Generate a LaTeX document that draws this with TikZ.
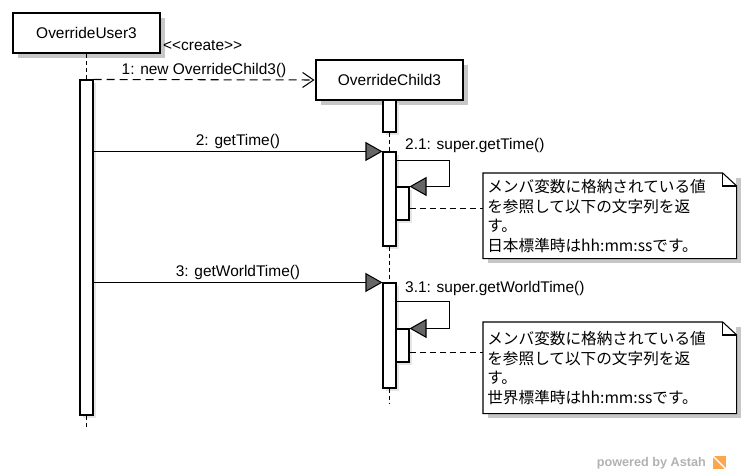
\documentclass[tikz,border=0pt]{standalone}
\usepackage{fontspec}
\setmainfont{Liberation Sans}
\newfontfamily\jpfont{Noto Sans CJK JP}
\usetikzlibrary{positioning, fit, shadows, arrows.meta}

\def\px{0.02cm}

\tikzset{
  headbox/.style={draw, line width=1.7pt, fill=white, inner sep=0,
    minimum width=147*\px, minimum height=40*\px,
    drop shadow={shadow xshift=5*\px, shadow yshift=-5*\px, fill=black!22, opacity=1}},
  actbox/.style={draw, line width=0.6pt, fill=white, inner sep=0,
    drop shadow={shadow xshift=3*\px, shadow yshift=-3*\px, fill=black!10, opacity=1}},
  lifeline/.style={line width=0.6pt, dash pattern=on 4*\px off 3*\px},
  syncmsg/.style={line width=0.6pt, -{Triangle[length=17*\px, width=19*\px, fill=black!60]}},
  createmsg/.style={line width=0.6pt, dash pattern=on 8*\px off 5*\px,
    -{Straight Barb[length=11*\px, width=15*\px]}},
  notelink/.style={line width=0.6pt, dash pattern=on 6*\px off 4*\px},
  notebox/.style={fill=white, inner sep=3*\px, anchor=north west, align=left,
    text width=245*\px, minimum width=253*\px, font=\jpfont\fontsize{8.9}{11.1}\selectfont,
    drop shadow={shadow xshift=5*\px, shadow yshift=-5*\px, fill=black!22, opacity=1}},
  msglabel/.style={inner sep=1pt}
}

\begin{document}
\begin{tikzpicture}[x=\px, y=-\px, font=\fontsize{8.8}{10.6}\selectfont]
\useasboundingbox (0,0) rectangle (748,476);

\node[headbox] (u3) at (86.5,33) {OverrideUser3};
\node[headbox] (c3) at (389.5,80) {OverrideChild3};

\node[actbox, fit={(80,80) (93,415)}] (a1) {};
\node[actbox, fit={(383,100) (396,132)}] (c0) {};
\node[actbox, fit={(383,152) (396,246)}] (c1) {};
\node[actbox, fit={(396,187) (409,220)}] (n1) {};
\node[actbox, fit={(383,283) (396,388)}] (c2) {};
\node[actbox, fit={(396,329) (409,362)}] (n2) {};

\coordinate (u3end) at (86.5,428);
\coordinate (c3end) at (389.5,403);

\draw[lifeline] (u3.south) -- (a1.north);
\draw[lifeline] (a1.south) -- (u3end);
\draw[lifeline] (c0.south) -- (c1.north);
\draw[lifeline] (c1.south) -- (c2.north);
\draw[lifeline] (c2.south) -- (c3end);

\draw[createmsg] (a1.north east) -- node[above, msglabel] (m1) {1: new OverrideChild3()} (c3.west);
\node[anchor=west, inner sep=1pt] (st) at (161,46) {\textless\kern0pt\textless create\textgreater\kern0pt\textgreater};

\draw[syncmsg] (a1.east |- c1.north) -- node[above, msglabel] (m2) {2: getTime()} (c1.north west);
\draw[syncmsg] (a1.east |- c2.north) -- node[above, msglabel] (m3) {3: getWorldTime()} (c2.north west);

\node[anchor=west] (s1) at (399,146) {2.1: super.getTime()};
\node[anchor=west] (s2) at (399,289) {3.1: super.getWorldTime()};

\draw[syncmsg] ([yshift=-9*\px]c1.north east) -- ++(53,0) |- (n1.north east);
\draw[syncmsg] ([yshift=-19*\px]c2.north east) -- ++(53,0) |- (n2.north east);

\node[notebox, minimum height=85*\px] (note1) at (483,173)
  {メンバ変数に格納されている値\\を参照して以下の文字列を返\\す。\\日本標準時はhh:mm:ssです。};
\node[notebox, minimum height=91*\px] (note2) at (483,322)
  {メンバ変数に格納されている値\\を参照して以下の文字列を返\\す。\\世界標準時はhh:mm:ssです。};

\foreach \n in {note1, note2} {
  \draw[line width=0.6pt] (\n.north west) -- ([xshift=-14*\px]\n.north east)
    -- ([yshift=-13*\px]\n.north east) -- (\n.south east) -- (\n.south west) -- cycle;
  \draw[line width=0.6pt] ([xshift=-14*\px]\n.north east) |- ([yshift=-13*\px]\n.north east);
}

\draw[notelink] (n1.east) ++(0,5) coordinate (k1) -- (note1.west |- k1);
\draw[notelink] (n2.east) ++(0,7) coordinate (k2) -- (note2.west |- k2);

\node[text=black!30, font=\bfseries\fontsize{7.2}{8}\selectfont, anchor=east] (wm) at (712,463) {powered by Astah};
\node[fill=orange!70, inner sep=0, minimum size=13*\px, right=1*\px of wm] (logo) {};
\draw[white, line width=0.8pt] (logo.north west) -- (logo.south east);
\end{tikzpicture}
\end{document}
